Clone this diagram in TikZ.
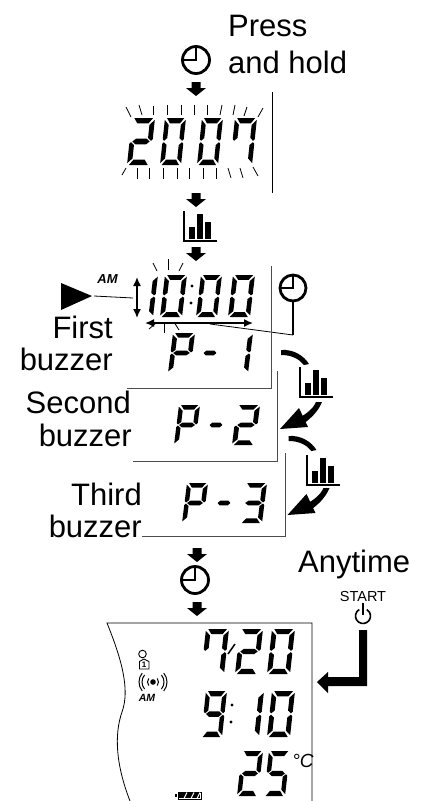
\documentclass[tikz,border=0pt]{standalone}
\usepackage{fontspec}
\setmainfont{Liberation Sans}
\usetikzlibrary{arrows.meta,positioning}
%% one segment each, unit square, y upward
\newcommand\lcdsega{\fill (.10,1)--(.92,1)--(.74,.885)--(.26,.885)--cycle;}
\newcommand\lcdsegb{\fill (1,.96)--(1,.55)--(.93,.515)--(.79,.575)--(.79,.855)--cycle;}
\newcommand\lcdsegc{\fill (1,.45)--(1,.04)--(.79,.14)--(.79,.425)--(.93,.485)--cycle;}
\newcommand\lcdsegd{\fill (.08,0)--(.90,0)--(.74,.115)--(.26,.115)--cycle;}
\newcommand\lcdsege{\fill (0,.45)--(0,.04)--(.21,.14)--(.21,.425)--(.07,.485)--cycle;}
\newcommand\lcdsegf{\fill (0,.96)--(0,.55)--(.07,.515)--(.21,.575)--(.21,.855)--cycle;}
\newcommand\lcdsegg{\fill (.12,.5)--(.27,.56)--(.73,.56)--(.88,.5)--(.73,.44)--(.27,.44)--cycle;}
%% x of lower left, y of bottom, width, height, segments
\newcommand\lcd[5]{\begin{scope}[shift={(#1,#2)},x={(#3pt,0pt)},y={(5pt,#4pt)}]
\foreach \s in {#5} {\csname lcdseg\s\endcsname}
\end{scope}}
\newcommand\blockdown[2]{\fill[shift={(#1,#2)}] (-4.5,0)--(4.5,0)--(4.5,6)--(10,6)--(0,14)--(-10,6)--(-4.5,6)--cycle;}
\newcommand\barsicon[2]{\begin{scope}[shift={(#1,#2)}]
\draw[line width=1.4pt] (0,0)--(0,30)--(33,30);
\fill (4.5,16) rectangle (10.5,28);
\fill (12.5,3) rectangle (19,28);
\fill (21,11) rectangle (27,28);
\end{scope}}
\newcommand\swoosh[2]{\begin{scope}[shift={(#1,#2)}]
\fill (281,350) .. controls (294,349) and (304,356) .. (309,364) -- (304,365) .. controls (299,359) and (292,355) .. (281,355) -- cycle;
\fill (316,402) -- (322,402) .. controls (318,412) and (310,419) .. (303,424) -- (299,418) .. controls (306,414) and (313,409) .. (316,402) -- cycle;
\fill (280,429) -- (299,408) -- (308,427) -- cycle;
\end{scope}}
\tikzset{bigtext/.style={font=\fontsize{31}{31}\selectfont,inner sep=0pt},
thinline/.style={line width=.8pt},
clockface/.style={circle,draw,line width=2.8pt,minimum size=#1,inner sep=0pt,
path picture={\draw[line width=2.8pt] (path picture bounding box.north)--(path picture bounding box.center)--(path picture bounding box.west);}},
bothtips/.style={{Latex[length=9pt,width=8pt]}-{Latex[length=9pt,width=8pt]},line width=1.5pt}}
\begin{document}
\begin{tikzpicture}[x=1pt,y=-1pt]
\useasboundingbox (0,0) rectangle (430,801);
\node[bigtext,anchor=base west] (press) at (228,36) {Press}; %%
\node[bigtext,anchor=base west] (hold) at (228,73) {and hold}; %%
\node[bigtext,anchor=base east] (first) at (113,338) {First}; %%
\node[bigtext,anchor=base east] (buzzerA) at (113,370) {buzzer}; %%
\node[bigtext,anchor=base east] (second) at (131,413) {Second}; %%
\node[bigtext,anchor=base east] (buzzerB) at (132,446) {buzzer}; %%
\node[bigtext,anchor=base east] (third) at (142,505) {Third}; %%
\node[bigtext,anchor=base east] (buzzerC) at (142,537) {buzzer}; %%
\node[bigtext,anchor=base west] (anytime) at (298,572) {Anytime}; %%
\node[clockface=27pt] (clockA) at (196,60) {}; %%
\node[clockface=26pt] (clockB) at (293,288) {}; %%
\node[clockface=27pt] (clockC) at (195,580) {}; %%
\blockdown{196}{82}
\blockdown{196}{193}
\blockdown{196}{247}
\blockdown{197}{548}
\blockdown{197}{602}
\barsicon{184}{211}
\barsicon{300}{367}
\barsicon{307}{455}
%% flashing year
\lcd{127}{165}{23}{47}{a,b,g,e,d}
\lcd{160}{165}{21}{47}{a,b,c,d,e,f}
\lcd{197}{165}{21}{47}{a,b,c,d,e,f}
\lcd{230}{165}{22}{47}{a,b,c,f}
\foreach \xa/\ya/\xb/\yb in {126/107/131/117,139/105/142/115,153/106/153/115,167/105/167/115,181/105/181/115,194/105/194/115,207/105/207/115,222/105/220/115,235/105/233/115,247/107/244/116,263/108/258/117,126/168/122/175,137/168/137/179,149/168/149/179,163/168/163/179,177/168/177/179,189/168/189/179,203/168/203/179,216/168/216/179,228/168/231/178,240/168/243/178,253/167/258/176}
  \draw[thinline] (\xa,\ya)--(\xb,\yb);
\coordinate (railAtop) at (272,92);
\coordinate (railAend) at (272,193);
\draw[thinline] (railAtop)--(railAend);
%% clock setting
\lcd{131}{317}{22}{42}{b,c}
\lcd{160}{317}{22}{42}{a,b,c,d,e,f}
\lcd{196}{317}{21}{42}{a,b,c,d,e,f}
\lcd{228}{317}{22}{42}{a,b,c,d,e,f}
\fill (192,286) circle (1.6pt) (191,303) circle (1.6pt);
\foreach \xa/\ya/\xb/\yb in {153/263/157/271,168/259/168/270,183/263/179/271,155/324/149/329,164/324/164/333,174/322/179/330}
  \draw[thinline] (\xa,\ya)--(\xb,\yb);
\node[font=\fontsize{13}{13}\selectfont\bfseries\itshape,inner sep=0pt] (amset) at (107.5,279) {AM}; %%
\fill (61,283)--(92,296)--(61,310)--cycle;
\coordinate (pointer) at (94,296);
\coordinate (hourtip) at (133,298);
\draw[thinline] (pointer)--(hourtip);
\coordinate (hourup) at (137,277);
\coordinate (hourdown) at (137,318);
\draw[bothtips] (hourup)--(hourdown);
\coordinate (minleft) at (145,323);
\coordinate (minright) at (253,323);
\draw[bothtips] (minleft)--(minright);
\coordinate (minline) at (210,324);
\coordinate (clockcorner) at (293,335);
\draw[thinline] (minline)--(clockcorner);
\draw[line width=1.4pt] (clockcorner)--(clockB.south);
%% buzzers
\lcd{168}{373}{22}{40}{a,b,e,f,g}
\lcd{199}{373}{17}{40}{g}
\lcd{226}{373}{22}{40}{b,c}
\lcd{174}{445}{21}{40}{a,b,e,f,g}
\lcd{205}{445}{17}{40}{g}
\lcd{232}{445}{23}{40}{a,b,g,e,d}
\lcd{182}{523}{21}{40}{a,b,e,f,g}
\lcd{213}{523}{17}{40}{g}
\lcd{240}{523}{22}{40}{a,b,g,c,d}
\coordinate (railBtop) at (271,266);
\coordinate (railBcorner) at (271,388);
\coordinate (railBend) at (127,388);
\draw[thinline,black!70] (railBtop)--(railBcorner)--(railBend);
\coordinate (railCtop) at (277,371);
\coordinate (railCcorner) at (277,461);
\coordinate (railCend) at (133,461);
\draw[thinline,black!70] (railCtop)--(railCcorner)--(railCend);
\coordinate (railDtop) at (285,453);
\coordinate (railDcorner) at (285,536);
\coordinate (railDend) at (142,536);
\draw[thinline,black!70] (railDtop)--(railDcorner)--(railDend);
\swoosh{0}{0}
\swoosh{7.5}{86}
%% main screen
\coordinate (screenA) at (130,801);
\coordinate (screenB) at (107,623);
\coordinate (screenC) at (312,623);
\coordinate (screenD) at (312,801);
\draw[thinline] (screenA) .. controls (116,765) and (114,735) .. (122,712) .. controls (130,690) and (122,660) .. (screenB)--(screenC)--(screenD);
\lcd{201}{674}{23}{45}{a,b,c,f}
\lcd{235}{674}{23}{45}{a,b,g,e,d}
\lcd{267}{674}{23}{45}{a,b,c,d,e,f}
\draw[line width=1.5pt] (228,654)--(235,644);
\lcd{201}{737}{21}{46}{a,b,c,d,f,g}
\fill (232,705) circle (1.6pt) (231,722) circle (1.6pt);
\lcd{236}{737}{23}{46}{b,c}
\lcd{267}{737}{23}{46}{a,b,c,d,e,f}
\lcd{237}{796}{21}{45}{a,b,g,e,d}
\lcd{264}{796}{21}{45}{a,f,g,c,d}
\node[font=\fontsize{19}{19}\selectfont\itshape,inner sep=0pt] (celsius) at (303,761) {°C}; %%
\draw[line width=.9pt] (142.5,654) circle (3.8pt);
\draw[line width=.9pt] (139.5,669)--(139.5,661.5)--(144,659)--(149,661.5)--(149,669)--cycle;
\node[font=\fontsize{8}{8}\selectfont\bfseries,inner sep=0pt] (userone) at (144,664.5) {1}; %%
\fill (153,682) circle (2.8pt);
\foreach \r in {5.5,11,14}
  \draw[line width=1pt] (153,682)+(140:\r pt) arc (140:220:\r pt) (153,682)+(-40:\r pt) arc (-40:40:\r pt);
\node[font=\fontsize{10.5}{10.5}\selectfont\bfseries\itshape,inner sep=0pt] (amscreen) at (147,697.5) {AM}; %%
\draw[line width=.8pt] (178,792) rectangle (201,799);
\draw[line width=1.2pt] (176,794)--(176,797);
\fill (179,793) rectangle (200,798);
\foreach \a in {184,191,197}
  \draw[white,line width=1pt] (\a,798.5)--(\a+3,792.5);
%% start button
\node[font=\fontsize{14.5}{14.5}\selectfont,inner sep=0pt] (start) at (363,596) {START}; %%
\draw[line width=1.6pt] (359.25,609.5) arc (120:420:7.5pt);
\coordinate (powerA) at (363,603);
\coordinate (powerB) at (363,615);
\draw[line width=1.6pt] (powerA)--(powerB);
\fill (359,630)--(367,630)--(367,686)--(328,686)--(328,693)--(317,682)--(328,672)--(328,677)--(359,677)--cycle;
\end{tikzpicture}
\end{document}
